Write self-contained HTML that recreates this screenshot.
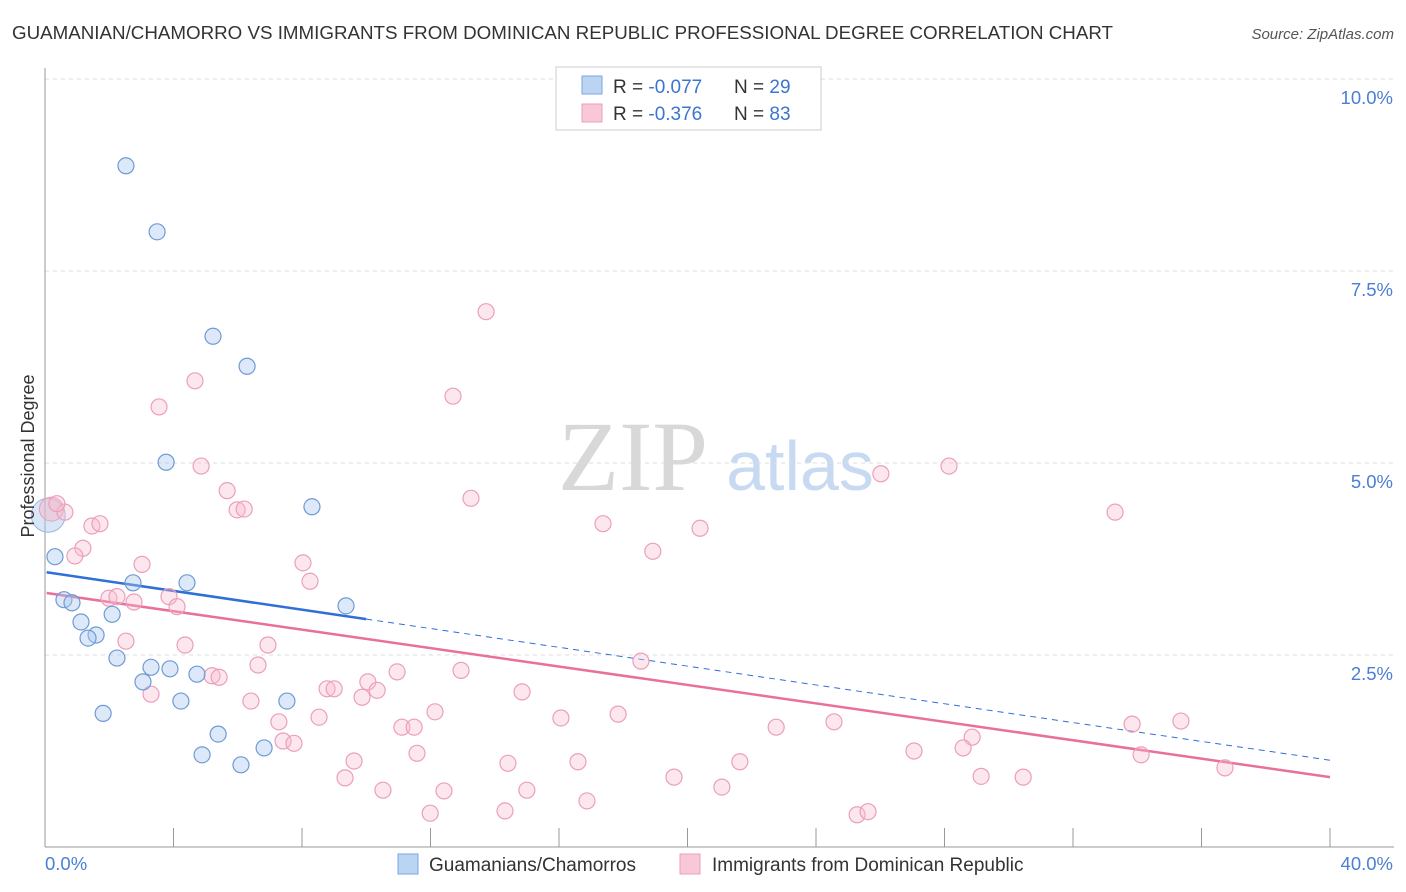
<!DOCTYPE html>
<html><head><meta charset="utf-8">
<style>
body{margin:0;background:#fff;font-family:"Liberation Sans",sans-serif;}
#wrap{position:relative;width:1406px;height:892px;overflow:hidden;}
</style></head>
<body>
<div id="wrap">
<svg id="chart" width="1406" height="892" xmlns="http://www.w3.org/2000/svg">
<text x="12" y="39" font-size="18" fill="#333" textLength="1101" lengthAdjust="spacingAndGlyphs">GUAMANIAN/CHAMORRO VS IMMIGRANTS FROM DOMINICAN REPUBLIC PROFESSIONAL DEGREE CORRELATION CHART</text>
<text x="1394" y="39" font-size="15" fill="#555" font-style="italic" text-anchor="end">Source: ZipAtlas.com</text>
<g>
<text x="633" y="490" font-size="100" fill="#d8d8d8" font-family="Liberation Serif,serif" text-anchor="middle">ZIP</text>
<text x="800" y="490" font-size="70" fill="#c8daf2" text-anchor="middle">atlas</text>
</g>
<g id="grid"></g>
<g id="axes"></g>
<g id="trends"></g>
<g id="points"></g>
<text x="34" y="456" font-size="18" fill="#333" text-anchor="middle" transform="rotate(-90 34 456)">Professional Degree</text>
<g>
<rect x="556" y="67" width="265" height="63" fill="#fff" stroke="#ccc"/>
<rect x="582" y="76" width="20" height="18" fill="#bcd4f4" stroke="#7aa6de"/>
<rect x="582" y="104" width="20" height="18" fill="#f8c8d6" stroke="#eaa0b8"/>
<text x="613" y="93" font-size="19" fill="#333">R = <tspan fill="#3b74d1">-0.077</tspan></text>
<text x="734" y="93" font-size="19" fill="#333">N = <tspan fill="#3b74d1">29</tspan></text>
<text x="613" y="120" font-size="19" fill="#333">R = <tspan fill="#3b74d1">-0.376</tspan></text>
<text x="734" y="120" font-size="19" fill="#333">N = <tspan fill="#3b74d1">83</tspan></text>
</g>
<g>
<rect x="398" y="854" width="20" height="20" fill="#bcd4f4" stroke="#7aa6de"/>
<text x="429" y="871" font-size="19" fill="#333">Guamanians/Chamorros</text>
<rect x="680" y="854" width="20" height="20" fill="#f8c8d6" stroke="#eaa0b8"/>
<text x="712" y="871" font-size="19" fill="#333">Immigrants from Dominican Republic</text>
</g>
</svg>
</div>
<script>
const yTicks=[2.5,5,7.5,10];
const yTickLabels=["2.5%","5.0%","7.5%","10.0%"];
const xTickCount=10;
const blueX=[2.52,3.49,5.23,6.29,3.77,8.31,0.31,2.74,4.42,0.59,0.84,9.37,2.09,1.12,1.59,1.34,2.24,3.30,3.89,3.05,4.73,4.23,7.53,1.81,5.39,6.82,4.89,6.10];
const blueY=[8.87,8.01,6.65,6.26,5.01,4.43,3.78,3.44,3.44,3.22,3.18,3.14,3.03,2.93,2.76,2.72,2.46,2.34,2.32,2.15,2.25,1.90,1.90,1.74,1.47,1.29,1.20,1.07];
const pinkX=[13.73,12.70,4.67,3.55,4.86,28.14,26.02,13.26,5.67,5.98,6.20,0.62,0.37,33.31,1.46,1.71,17.37,20.39,1.18,0.93,18.92,3.02,8.03,8.25,3.86,1.99,2.24,2.77,4.11,2.52,4.36,6.94,18.55,6.63,12.95,10.96,5.20,5.42,10.05,10.34,8.78,9.00,14.85,3.30,9.87,6.41,8.53,12.14,17.84,16.06,7.28,11.11,11.49,22.76,24.56,33.84,35.36,28.86,28.58,27.05,34.12,7.41,7.75,11.58,9.62,14.41,16.59,21.63,36.73,9.34,19.58,29.14,30.45,10.52,12.42,15.00,21.07,16.87,14.32,11.99,25.28,25.62];
const pinkY=[6.97,5.87,6.07,5.73,4.96,4.96,4.86,4.54,4.64,4.39,4.40,4.36,4.47,4.36,4.18,4.21,4.21,4.15,3.89,3.79,3.85,3.68,3.70,3.46,3.26,3.24,3.26,3.19,3.13,2.68,2.63,2.63,2.42,2.37,2.30,2.28,2.23,2.21,2.15,2.04,2.06,2.06,2.02,1.99,1.95,1.90,1.69,1.76,1.73,1.68,1.63,1.56,1.56,1.56,1.63,1.60,1.64,1.43,1.29,1.25,1.20,1.38,1.35,1.22,1.12,1.09,1.11,1.11,1.03,0.90,0.91,0.92,0.91,0.74,0.73,0.74,0.78,0.60,0.47,0.44,0.42,0.46];
const blueTrend=[3.58,1.13];
const pinkTrend=[3.31,0.91];
const blueSolidEnd=10.0;

const NS="http://www.w3.org/2000/svg";
const X0=45,X1=1330,Y0=847,Y10=79;
function sx(v){return X0+(v/40)*(X1-X0);}
function sy(v){return Y0-(v/10)*(Y0-Y10);}
function mk(tag,attrs,parent){const e=document.createElementNS(NS,tag);for(const k in attrs)e.setAttribute(k,attrs[k]);parent.appendChild(e);return e;}
const grid=document.getElementById('grid'),axes=document.getElementById('axes'),trends=document.getElementById('trends'),pts=document.getElementById('points');
yTicks.forEach((t,i)=>{
 const l=mk('line',{x1:X0,x2:1394,y1:sy(t),y2:sy(t),stroke:'#ddd','stroke-dasharray':'4,4'},grid);
 
 
 const tx=mk('text',{x:1393,y:sy(t)+25,'font-size':18.5,fill:'#4a7fd4','text-anchor':'end'},axes);
 tx.textContent=yTickLabels[i];
 
 
});
const ax=mk('line',{x1:X0,x2:X0,y1:68,y2:Y0,stroke:'#999'},axes);


const bx=mk('line',{x1:X0,x2:1394,y1:Y0,y2:Y0,stroke:'#999'},axes);


for(let i=0;i<=xTickCount;i++){
 const v=i*40/xTickCount;
 const t=mk('line',{x1:sx(v),x2:sx(v),y1:828,y2:Y0,stroke:'#999'},axes);
 
 
}
const xl0=mk('text',{x:45,y:870,'font-size':18.5,fill:'#4a7fd4'},axes);xl0.textContent='0.0%';


const xl1=mk('text',{x:1393,y:870,'font-size':18.5,fill:'#4a7fd4','text-anchor':'end'},axes);xl1.textContent='40.0%';



function trendAt(tr,x){return tr[0]+(tr[1]-tr[0])*x/40;}
const pt=mk('line',{x1:sx(0.05),y1:sy(trendAt(pinkTrend,0.05)),x2:sx(40),y2:sy(pinkTrend[1]),stroke:'#e8709a','stroke-width':2.5},trends);


const bt=mk('line',{x1:sx(0.05),y1:sy(trendAt(blueTrend,0.05)),x2:sx(blueSolidEnd),y2:sy(trendAt(blueTrend,blueSolidEnd)),stroke:'#2f6fd6','stroke-width':2.5},trends);


const bd=mk('line',{x1:sx(blueSolidEnd),y1:sy(trendAt(blueTrend,blueSolidEnd)),x2:sx(40),y2:sy(blueTrend[1]),stroke:'#2f6fd6','stroke-width':1,'stroke-dasharray':'6,5'},trends);



const bigB=mk('circle',{cx:sx(0.1),cy:sy(4.32),r:17,fill:'rgba(170,200,240,0.45)',stroke:'#9bb8e2'},pts);


const bigP=mk('circle',{cx:sx(0.2),cy:sy(4.4),r:12,fill:'rgba(248,180,200,0.45)',stroke:'#eaa0b8'},pts);


pinkX.forEach((x,i)=>{
 const c=mk('circle',{cx:sx(x),cy:sy(pinkY[i]),r:8,fill:'rgba(248,185,205,0.35)',stroke:'#eb9fba','stroke-width':1.2},pts);
 
 
});
blueX.forEach((x,i)=>{
 const c=mk('circle',{cx:sx(x),cy:sy(blueY[i]),r:8,fill:'rgba(170,200,240,0.4)',stroke:'#6f9ad6','stroke-width':1.2},pts);
 
 
});
</script>
</body></html>
